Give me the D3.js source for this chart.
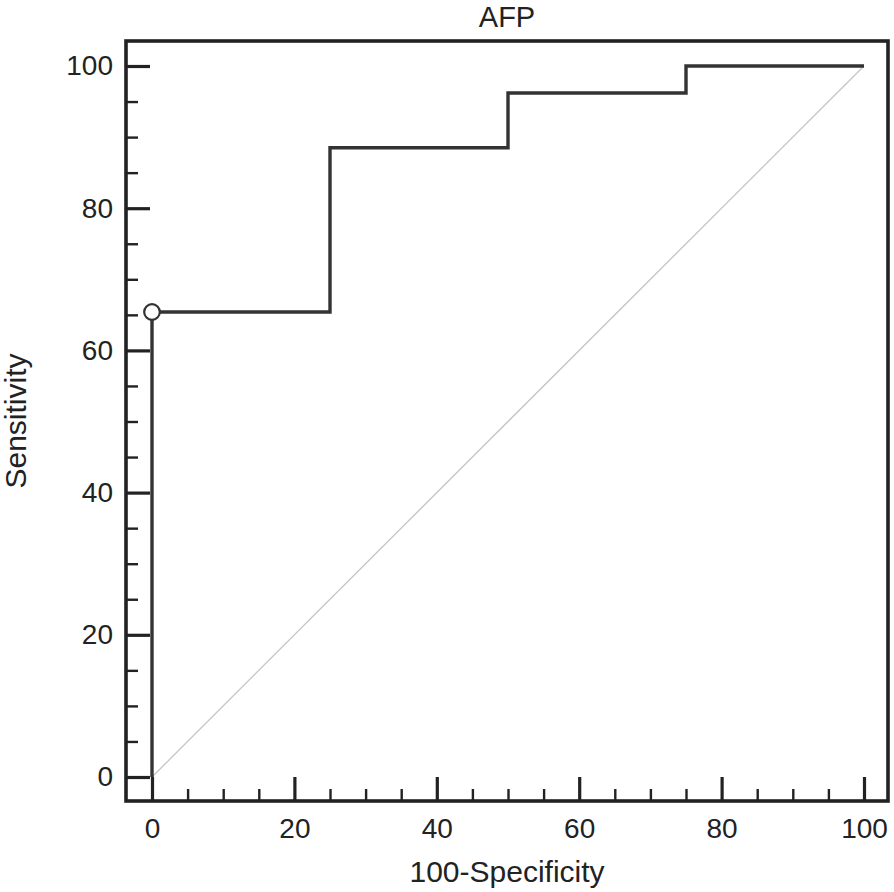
<!DOCTYPE html>
<html>
<head>
<meta charset="utf-8">
<script src="https://cdn.jsdelivr.net/npm/d3@7"></script>
<style>
  body { margin: 0; background: #fff; }
  text { font-family: "Liberation Sans", Arial, sans-serif; fill: #222; }
</style>
</head>
<body>
<script>
// ROC curve for AFP (step points)
var fpr = [0, 0, 25, 50, 75, 100];          // 100-Specificity
var sens = [0, 65.4, 88.5, 96.2, 100, 100]; // Sensitivity
var cutFpr = [0], cutSens = [65.4];          // criterion point
var tickVals = [0, 20, 40, 60, 80, 100];

var width = 894, height = 892;
var frame = {left: 126, right: 888, top: 41, bottom: 801};

var x = d3.scaleLinear().domain([0, 100]).range([152, 864]);
var y = d3.scaleLinear().domain([0, 100]).range([777, 66]);

var svg = d3.select('body').append('svg')
  .attr('width', width)
  .attr('height', height);

// diagonal reference line
svg.append('line')
  .attr('x1', x(0)).attr('y1', y(0))
  .attr('x2', x(100)).attr('y2', y(100))
  .attr('stroke', '#c4c4c4')
  .attr('stroke-width', 1.3);

// axes, ticks pointing inward
var minor = d3.range(0, 101, 5);

var xAxis = svg.append('g')
  .attr('transform', 'translate(0,' + frame.bottom + ')')
  .call(d3.axisBottom(x).tickValues(minor).tickSize(-12).tickPadding(17)
    .tickFormat(function(d) { return tickVals.indexOf(d) >= 0 ? d : ''; }));

var yAxis = svg.append('g')
  .attr('transform', 'translate(' + frame.left + ',0)')
  .call(d3.axisLeft(y).tickValues(minor).tickSize(-12).tickPadding(13)
    .tickFormat(function(d) { return tickVals.indexOf(d) >= 0 ? d : ''; }));

[xAxis, yAxis].forEach(function(ax) {
  ax.select('.domain').remove();
  ax.selectAll('.tick line')
    .attr('stroke', '#222')
    .attr('stroke-width', function(d) { return d % 20 == 0 ? 3.2 : 2.4; });
  ax.selectAll('.tick text')
    .attr('font-size', 28)
    .attr('font-family', '"Liberation Sans", Arial, sans-serif')
    .attr('fill', '#222');
});
xAxis.selectAll('.tick line')
  .attr('y2', function(d) { return d % 20 == 0 ? -(frame.bottom - y(0)) : -12; });
yAxis.selectAll('.tick line')
  .attr('x2', function(d) { return d % 20 == 0 ? (x(0) - frame.left) - 2 : 12; });

// ROC curve
var line = d3.line()
  .x(function(d, i) { return x(fpr[i]); })
  .y(function(d, i) { return y(sens[i]); })
  .curve(d3.curveStepAfter);

svg.append('path')
  .datum(fpr)
  .attr('d', line)
  .attr('fill', 'none')
  .attr('stroke', '#333')
  .attr('stroke-width', 3.4);

// frame
svg.append('rect')
  .attr('x', frame.left).attr('y', frame.top)
  .attr('width', frame.right - frame.left)
  .attr('height', frame.bottom - frame.top)
  .attr('fill', 'none')
  .attr('stroke', '#222')
  .attr('stroke-width', 3.6);

// criterion marker
svg.selectAll('.cut')
  .data(cutFpr)
  .enter().append('circle')
  .attr('class', 'cut')
  .attr('cx', function(d) { return x(d); })
  .attr('cy', function(d, i) { return y(cutSens[i]); })
  .attr('r', 7.8)
  .attr('fill', '#fff')
  .attr('stroke', '#333')
  .attr('stroke-width', 2.2);

// titles
svg.append('text')
  .attr('x', (frame.left + frame.right) / 2)
  .attr('y', 27)
  .attr('text-anchor', 'middle')
  .attr('font-size', 29)
  .text('AFP');

svg.append('text')
  .attr('x', (frame.left + frame.right) / 2)
  .attr('y', 882)
  .attr('text-anchor', 'middle')
  .attr('font-size', 30)
  .text('100-Specificity');

svg.append('text')
  .attr('transform', 'translate(26,421) rotate(-90)')
  .attr('text-anchor', 'middle')
  .attr('font-size', 30)
  .text('Sensitivity');
</script>
</body>
</html>
